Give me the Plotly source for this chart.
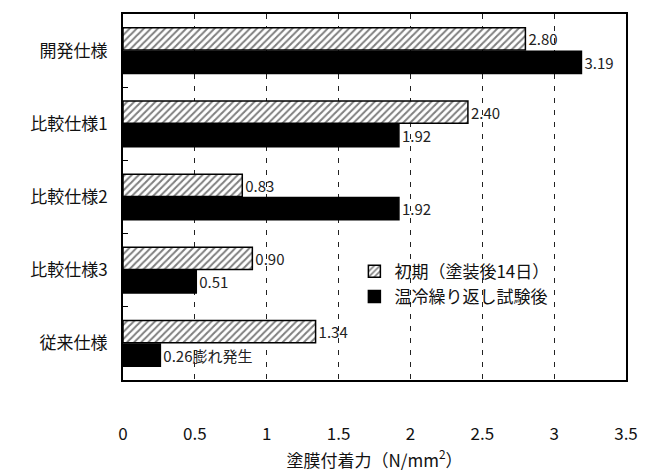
import plotly.graph_objects as go

categories = ["開発仕様", "比較仕様1", "比較仕様2", "比較仕様3", "従来仕様"]
initial = [2.80, 2.40, 0.83, 0.90, 1.34]
after_cycle = [3.19, 1.92, 1.92, 0.51, 0.26]
initial_labels = ["2.80", "2.40", "0.83", "0.90", "1.34"]
after_labels = ["3.19", "1.92", "1.92", "0.51", "0.26膨れ発生"]
series_names = ["初期（塗装後14日）", "温冷繰り返し試験後"]
x_ticks = [0, 0.5, 1, 1.5, 2, 2.5, 3, 3.5]
x_ticktext = ["0", "0.5", "1", "1.5", "2", "2.5", "3", "3.5"]

FONT = "Noto Sans CJK JP"

fig = go.Figure()
fig.add_trace(go.Bar(
    y=categories, x=initial, orientation="h", name=series_names[0],
    marker=dict(color="white", line=dict(color="black", width=1.5),
                pattern=dict(shape="/", fgcolor="black", bgcolor="white", size=5, solidity=0.4)),
    text=initial_labels, textposition="outside", cliponaxis=False,
    textfont=dict(family=FONT, size=15, color="#222"),
))
fig.add_trace(go.Bar(
    y=categories, x=after_cycle, orientation="h", name=series_names[1],
    marker=dict(color="black", line=dict(color="black", width=1.5)),
    text=after_labels, textposition="outside", cliponaxis=False,
    textfont=dict(family=FONT, size=15, color="#222"),
))

fig.update_layout(
    width=650, height=475,
    margin=dict(l=123, r=14, t=12, b=93),
    paper_bgcolor="white", plot_bgcolor="white",
    barmode="group", bargap=0.36, bargroupgap=0.05,
    font=dict(family=FONT, size=16, color="#111"),
    showlegend=True,
    legend=dict(x=0.46, y=0.345, xanchor="left", yanchor="top",
                bgcolor="rgba(255,255,255,0)", font=dict(size=17, family=FONT, color="#111"),
                tracegroupgap=2, itemwidth=30),
    xaxis=dict(range=[0, 3.5], tickvals=x_ticks, ticktext=x_ticktext,
               showgrid=True, gridcolor="#222", griddash="5px,7px", gridwidth=1,
               showline=True, linecolor="black", linewidth=2, mirror=True,
               ticks="", ticklabelstandoff=38, zeroline=False,
               tickfont=dict(size=17, family=FONT, color="#111"),
               title=dict(text="塗膜付着力（N/mm<sup>2</sup>）", font=dict(size=17, family=FONT, color="#111"), standoff=6)),
    yaxis=dict(autorange="reversed", showline=True, linecolor="black", linewidth=2, mirror=True,
               ticks="inside", tickson="boundaries", ticklen=5, tickcolor="black",
               showgrid=False, tickfont=dict(size=17, family=FONT, color="#111"), ticklabelstandoff=10),
)

fig.write_html("out.html")
